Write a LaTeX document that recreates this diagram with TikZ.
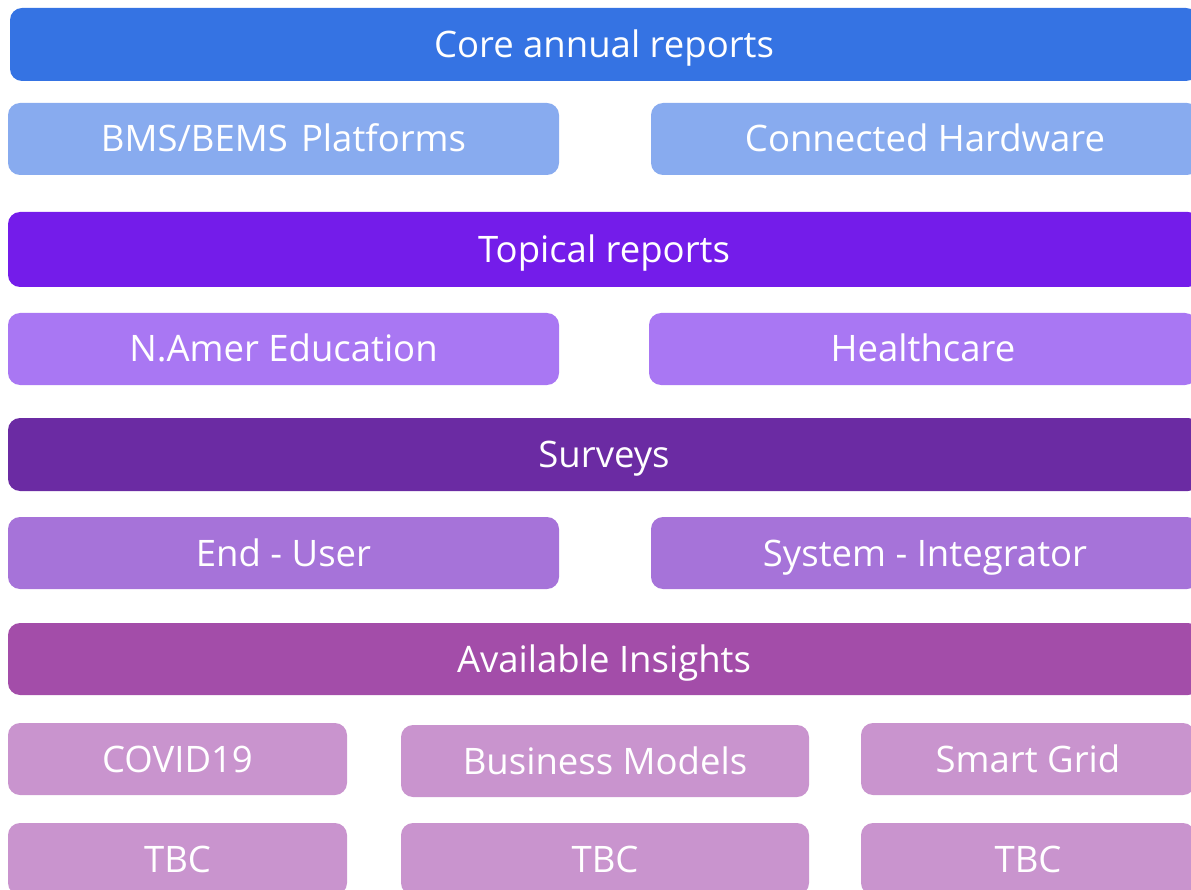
\documentclass[tikz,border=0pt]{standalone}
\usepackage{fontspec}
\setmainfont{Open Sans}
\definecolor{ccore}{HTML}{3573E3}
\definecolor{cbms}{HTML}{88ABEF}
\definecolor{ctop}{HTML}{741CEA}
\definecolor{cnam}{HTML}{A977F3}
\definecolor{csur}{HTML}{6B2BA3}
\definecolor{cend}{HTML}{A673D9}
\definecolor{cavl}{HTML}{A34DA9}
\definecolor{cins}{HTML}{C994CE}
\begin{document}
\begin{tikzpicture}[x=1pt,y=-1pt,
  box/.style={rounded corners=12pt, inner sep=0pt, text=white, font=\fontsize{36.5}{42}\selectfont, text height=26pt, text depth=0pt, minimum height=72pt},
]
\useasboundingbox (0,0) rectangle (1191,890);
\clip (0,0) rectangle (1191,890);
\node[box, fill=ccore, minimum width=1188pt, minimum height=73pt] (core) at (604,44.5) {Core annual reports};
\node[box, fill=cbms, minimum width=551pt] (bms) at (283.5,139) {BMS/BEMS\hspace{0.1em} Platforms};
\node[box, fill=cbms, minimum width=548pt] (hw) at (925,139) {Connected Hardware};
\node[box, fill=ctop, minimum width=1192pt, minimum height=75pt] (top) at (604,249.5) {Topical reports};
\node[box, fill=cnam, minimum width=551pt] (edu) at (283.5,349) {N.Amer Education};
\node[box, fill=cnam, minimum width=548pt] (hc) at (923,349) {Healthcare};
\node[box, fill=csur, minimum width=1192pt, minimum height=73pt] (sur) at (604,454.5) {Surveys};
\node[box, fill=cend, minimum width=551pt] (eu) at (283.5,553) {End - User};
\node[box, fill=cend, minimum width=548pt] (si) at (925,553) {System - Integrator};
\node[box, fill=cavl, minimum width=1192pt] (avl) at (604,659) {Available Insights};
\node[box, fill=cins, minimum width=339pt] (cov) at (177.5,759) {COVID19};
\node[box, fill=cins, minimum width=408pt] (bm) at (605,761) {Business Models};
\node[box, fill=cins, minimum width=334pt] (sg) at (1028,759) {Smart Grid};
\node[box, fill=cins, minimum width=339pt] (tbca) at (177.5,859) {TBC};
\node[box, fill=cins, minimum width=408pt] (tbcb) at (605,859) {TBC};
\node[box, fill=cins, minimum width=334pt] (tbcc) at (1028,859) {TBC};
\end{tikzpicture}
\end{document}
